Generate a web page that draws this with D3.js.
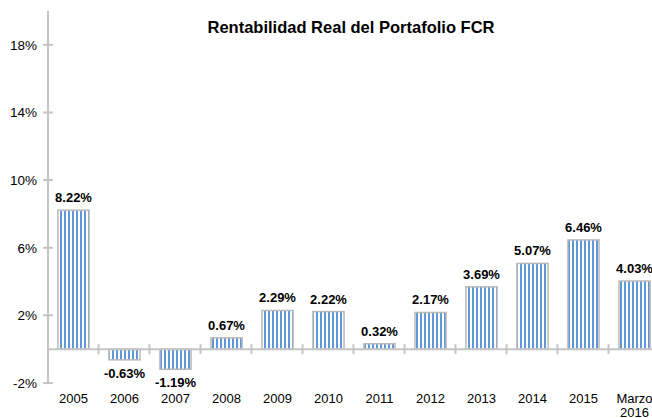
<!DOCTYPE html>
<html>
<head>
<meta charset="utf-8">
<script src="https://cdn.jsdelivr.net/npm/d3@7"></script>
<style>
  body { margin: 0; background: #fff; overflow: hidden; }
  text { font-family: "Liberation Sans", Arial, sans-serif; fill: #000; }
</style>
</head>
<body>
<script>
(function(){

//data
var years = ["2005", "2006", "2007", "2008", "2009", "2010", "2011", "2012", "2013", "2014", "2015", "Marzo 2016"];
var rentabilidad = [8.22, -0.63, -1.19, 0.67, 2.29, 2.22, 0.32, 2.17, 3.69, 5.07, 6.46, 4.03];
var yTicks = [-2, 2, 6, 10, 14, 18];

var width = 652, height = 418;
var axisX = 48;

var svg = d3.select("body").append("svg")
  .attr("width", width)
  .attr("height", height);

//striped fill
var defs = svg.append("defs");
var pat = defs.append("pattern")
  .attr("id", "stripes")
  .attr("patternUnits", "userSpaceOnUse")
  .attr("width", 4)
  .attr("height", 10);
pat.append("rect").attr("width", 4).attr("height", 10).attr("fill", "#fff");
pat.append("rect").attr("width", 2).attr("height", 10).attr("fill", "#5f97d9");

var y = d3.scaleLinear()
  .domain([-2, 20])
  .range([383, 11]);

var x = d3.scaleBand()
  .domain(years)
  .range([axisX, axisX + 51 * years.length])
  .paddingInner(0.39)
  .paddingOuter(0.195);

var step = x.step();

//title
svg.append("text")
  .attr("x", 351)
  .attr("y", 33)
  .attr("text-anchor", "middle")
  .style("font-size", "16.5px")
  .style("font-weight", "bold")
  .text("Rentabilidad Real del Portafolio FCR");

//y axis
var gray = "#c4c4c4";
svg.append("line")
  .attr("x1", axisX).attr("x2", axisX)
  .attr("y1", y(20)).attr("y2", y(-2))
  .attr("stroke", gray).attr("stroke-width", 2);

svg.selectAll(".ytick")
  .data(yTicks)
  .enter()
  .append("line")
  .attr("class", "ytick")
  .attr("x1", axisX - 5).attr("x2", axisX + 5)
  .attr("y1", function(d){ return y(d); })
  .attr("y2", function(d){ return y(d); })
  .attr("stroke", gray).attr("stroke-width", 2);

svg.selectAll(".ylabel")
  .data(yTicks)
  .enter()
  .append("text")
  .attr("class", "ylabel")
  .attr("x", 37)
  .attr("y", function(d){ return y(d) + 5; })
  .attr("text-anchor", "end")
  .style("font-size", "13.5px")
  .text(function(d){ return d + "%"; });

//bars
svg.selectAll(".bar")
  .data(rentabilidad)
  .enter()
  .append("rect")
  .attr("class", "bar")
  .attr("x", function(d, i){ return x(years[i]); })
  .attr("width", x.bandwidth())
  .attr("y", function(d){ return y(Math.max(0, d)); })
  .attr("height", function(d){ return Math.abs(y(d) - y(0)); })
  .attr("fill", "url(#stripes)")
  .attr("stroke", "#b9b9b9")
  .attr("stroke-width", 1.5);

//x axis
svg.append("line")
  .attr("x1", axisX).attr("x2", width)
  .attr("y1", y(0)).attr("y2", y(0))
  .attr("stroke", gray).attr("stroke-width", 2);

svg.selectAll(".xtick")
  .data(years.slice(1))
  .enter()
  .append("line")
  .attr("class", "xtick")
  .attr("x1", function(d){ return x(d) - step * x.paddingInner() / 2 - 0.5; })
  .attr("x2", function(d){ return x(d) - step * x.paddingInner() / 2 - 0.5; })
  .attr("y1", y(0) - 5).attr("y2", y(0) + 5)
  .attr("stroke", gray).attr("stroke-width", 2);

//category labels
svg.selectAll(".xlabel")
  .data(years)
  .enter()
  .append("text")
  .attr("class", "xlabel")
  .attr("x", function(d){ return x(d) + x.bandwidth() / 2; })
  .attr("y", 403)
  .attr("text-anchor", "middle")
  .style("font-size", "13px")
  .each(function(d){
    var parts = d.split(" ");
    var t = d3.select(this);
    parts.forEach(function(p, k){
      t.append("tspan")
        .attr("x", t.attr("x"))
        .attr("dy", k === 0 ? 0 : 14)
        .text(p);
    });
  });

//value labels
svg.selectAll(".vlabel")
  .data(rentabilidad)
  .enter()
  .append("text")
  .attr("class", "vlabel")
  .attr("x", function(d, i){ return x(years[i]) + x.bandwidth() / 2; })
  .attr("y", function(d){ return d >= 0 ? y(d) - 8 : y(d) + 18; })
  .attr("text-anchor", "middle")
  .style("font-size", "13px")
  .style("font-weight", "bold")
  .text(function(d){ return d.toFixed(2) + "%"; });

})();
</script>
</body>
</html>
